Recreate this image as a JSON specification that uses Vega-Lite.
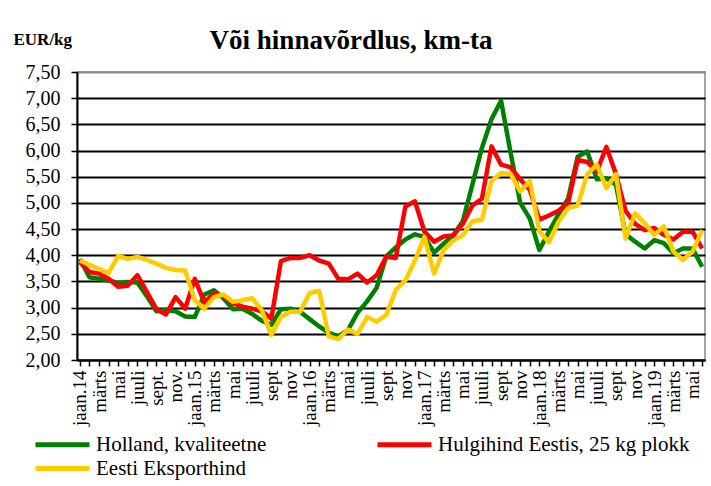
{
  "$schema": "https://vega.github.io/schema/vega-lite/v6.json",
  "width": 628,
  "height": 288,
  "autosize": {"type": "none"},
  "padding": {"left": 77, "top": 72, "right": 6, "bottom": 126},
  "background": "white",
  "title": {"text": "Või hinnavõrdlus, km-ta", "font": "Liberation Serif", "fontSize": 27, "fontWeight": "bold", "color": "black", "anchor": "middle", "frame": "group", "dx": -40, "dy": 32, "offset": -14, "baseline": "alphabetic"},
  "data": {"values": [
    {"kuu": "2014-01", "Holland": 3.93, "Hulgihind": 3.87, "Eksport": 3.90},
    {"kuu": "2014-02", "Holland": 3.58, "Hulgihind": 3.68, "Eksport": 3.82},
    {"kuu": "2014-03", "Holland": 3.55, "Hulgihind": 3.65, "Eksport": 3.74},
    {"kuu": "2014-04", "Holland": 3.52, "Hulgihind": 3.55, "Eksport": 3.66},
    {"kuu": "2014-05", "Holland": 3.47, "Hulgihind": 3.40, "Eksport": 3.99},
    {"kuu": "2014-06", "Holland": 3.49, "Hulgihind": 3.42, "Eksport": 3.93},
    {"kuu": "2014-07", "Holland": 3.48, "Hulgihind": 3.62, "Eksport": 3.97},
    {"kuu": "2014-08", "Holland": 3.22, "Hulgihind": 3.30, "Eksport": 3.91},
    {"kuu": "2014-09", "Holland": 2.93, "Hulgihind": 2.97, "Eksport": 3.84},
    {"kuu": "2014-10", "Holland": 2.95, "Hulgihind": 2.87, "Eksport": 3.76},
    {"kuu": "2014-11", "Holland": 2.93, "Hulgihind": 3.20, "Eksport": 3.72},
    {"kuu": "2014-12", "Holland": 2.83, "Hulgihind": 2.98, "Eksport": 3.71},
    {"kuu": "2015-01", "Holland": 2.82, "Hulgihind": 3.55, "Eksport": 3.14},
    {"kuu": "2015-02", "Holland": 3.25, "Hulgihind": 3.10, "Eksport": 2.98},
    {"kuu": "2015-03", "Holland": 3.33, "Hulgihind": 3.27, "Eksport": 3.20},
    {"kuu": "2015-04", "Holland": 3.18, "Hulgihind": 3.22, "Eksport": 3.25},
    {"kuu": "2015-05", "Holland": 2.97, "Hulgihind": 3.08, "Eksport": 3.11},
    {"kuu": "2015-06", "Holland": 2.98, "Hulgihind": 3.02, "Eksport": 3.14},
    {"kuu": "2015-07", "Holland": 2.88, "Hulgihind": 2.98, "Eksport": 3.18},
    {"kuu": "2015-08", "Holland": 2.75, "Hulgihind": 2.93, "Eksport": 2.95},
    {"kuu": "2015-09", "Holland": 2.67, "Hulgihind": 2.79, "Eksport": 2.48},
    {"kuu": "2015-10", "Holland": 2.97, "Hulgihind": 3.89, "Eksport": 2.82},
    {"kuu": "2015-11", "Holland": 2.98, "Hulgihind": 3.95, "Eksport": 2.92},
    {"kuu": "2015-12", "Holland": 2.92, "Hulgihind": 3.95, "Eksport": 2.92},
    {"kuu": "2016-01", "Holland": 2.78, "Hulgihind": 4.00, "Eksport": 3.28},
    {"kuu": "2016-02", "Holland": 2.64, "Hulgihind": 3.90, "Eksport": 3.32},
    {"kuu": "2016-03", "Holland": 2.52, "Hulgihind": 3.84, "Eksport": 2.45},
    {"kuu": "2016-04", "Holland": 2.45, "Hulgihind": 3.55, "Eksport": 2.40},
    {"kuu": "2016-05", "Holland": 2.57, "Hulgihind": 3.54, "Eksport": 2.58},
    {"kuu": "2016-06", "Holland": 2.90, "Hulgihind": 3.65, "Eksport": 2.50},
    {"kuu": "2016-07", "Holland": 3.12, "Hulgihind": 3.48, "Eksport": 2.82},
    {"kuu": "2016-08", "Holland": 3.38, "Hulgihind": 3.62, "Eksport": 2.73},
    {"kuu": "2016-09", "Holland": 3.98, "Hulgihind": 3.97, "Eksport": 2.86},
    {"kuu": "2016-10", "Holland": 4.15, "Hulgihind": 3.95, "Eksport": 3.34},
    {"kuu": "2016-11", "Holland": 4.30, "Hulgihind": 4.93, "Eksport": 3.52},
    {"kuu": "2016-12", "Holland": 4.40, "Hulgihind": 5.03, "Eksport": 3.90},
    {"kuu": "2017-01", "Holland": 4.35, "Hulgihind": 4.45, "Eksport": 4.35},
    {"kuu": "2017-02", "Holland": 4.05, "Hulgihind": 4.26, "Eksport": 3.65},
    {"kuu": "2017-03", "Holland": 4.22, "Hulgihind": 4.36, "Eksport": 4.10},
    {"kuu": "2017-04", "Holland": 4.38, "Hulgihind": 4.38, "Eksport": 4.28},
    {"kuu": "2017-05", "Holland": 4.65, "Hulgihind": 4.60, "Eksport": 4.38},
    {"kuu": "2017-06", "Holland": 5.35, "Hulgihind": 4.95, "Eksport": 4.65},
    {"kuu": "2017-07", "Holland": 6.05, "Hulgihind": 5.08, "Eksport": 4.68},
    {"kuu": "2017-08", "Holland": 6.60, "Hulgihind": 6.08, "Eksport": 5.42},
    {"kuu": "2017-09", "Holland": 6.95, "Hulgihind": 5.73, "Eksport": 5.57},
    {"kuu": "2017-10", "Holland": 5.95, "Hulgihind": 5.68, "Eksport": 5.55},
    {"kuu": "2017-11", "Holland": 5.00, "Hulgihind": 5.45, "Eksport": 5.22},
    {"kuu": "2017-12", "Holland": 4.70, "Hulgihind": 5.25, "Eksport": 5.42},
    {"kuu": "2018-01", "Holland": 4.10, "Hulgihind": 4.68, "Eksport": 4.46},
    {"kuu": "2018-02", "Holland": 4.45, "Hulgihind": 4.76, "Eksport": 4.25},
    {"kuu": "2018-03", "Holland": 4.78, "Hulgihind": 4.85, "Eksport": 4.64},
    {"kuu": "2018-04", "Holland": 5.08, "Hulgihind": 5.00, "Eksport": 4.90},
    {"kuu": "2018-05", "Holland": 5.88, "Hulgihind": 5.82, "Eksport": 4.95},
    {"kuu": "2018-06", "Holland": 5.98, "Hulgihind": 5.78, "Eksport": 5.55},
    {"kuu": "2018-07", "Holland": 5.45, "Hulgihind": 5.60, "Eksport": 5.73},
    {"kuu": "2018-08", "Holland": 5.47, "Hulgihind": 6.07, "Eksport": 5.28},
    {"kuu": "2018-09", "Holland": 5.35, "Hulgihind": 5.55, "Eksport": 5.55},
    {"kuu": "2018-10", "Holland": 4.40, "Hulgihind": 4.85, "Eksport": 4.32},
    {"kuu": "2018-11", "Holland": 4.26, "Hulgihind": 4.60, "Eksport": 4.80},
    {"kuu": "2018-12", "Holland": 4.13, "Hulgihind": 4.48, "Eksport": 4.61},
    {"kuu": "2019-01", "Holland": 4.29, "Hulgihind": 4.52, "Eksport": 4.39},
    {"kuu": "2019-02", "Holland": 4.23, "Hulgihind": 4.39, "Eksport": 4.55},
    {"kuu": "2019-03", "Holland": 4.04, "Hulgihind": 4.30, "Eksport": 4.07},
    {"kuu": "2019-04", "Holland": 4.13, "Hulgihind": 4.45, "Eksport": 3.91},
    {"kuu": "2019-05", "Holland": 4.13, "Hulgihind": 4.45, "Eksport": 4.07},
    {"kuu": "2019-06", "Holland": 3.78, "Hulgihind": 4.13, "Eksport": 4.48}
  ]},
  "transform": [{"fold": ["Holland", "Hulgihind", "Eksport"], "as": ["seeria", "hind"]}],
  "mark": {"type": "line", "strokeWidth": 4.5, "strokeJoin": "round"},
  "encoding": {
    "x": {
      "field": "kuu", "type": "ordinal",
      "scale": {"type": "point", "padding": 0.3},
      "axis": {
        "title": null,
        "labelExpr": "substring(datum.value,5,7)=='01' ? 'jaan.'+substring(datum.value,2,4) : substring(datum.value,5,7)=='03' ? 'märts' : substring(datum.value,5,7)=='05' ? 'mai' : substring(datum.value,5,7)=='07' ? 'juuli' : substring(datum.value,5,7)=='09' ? (substring(datum.value,0,4)=='2014' ? 'sept.' : 'sept') : substring(datum.value,5,7)=='11' ? (substring(datum.value,0,4)=='2014' ? 'nov.' : 'nov') : ''",
        "labelAngle": -90,
        "labelFont": "Liberation Serif",
        "labelFontSize": 19,
        "labelColor": "black",
        "labelOverlap": false,
        "labelBound": false,
        "labelPadding": 4,
        "tickSize": 6,
        "tickColor": "black",
        "tickWidth": 1.5,
        "domainColor": "black",
        "domainWidth": 2,
        "grid": false
      }
    },
    "y": {
      "field": "hind", "type": "quantitative",
      "scale": {"domain": [2, 7.5], "nice": false, "zero": false},
      "axis": {
        "values": [2, 2.5, 3, 3.5, 4, 4.5, 5, 5.5, 6, 6.5, 7, 7.5],
        "title": "EUR/kg",
        "titleAngle": 0,
        "titleX": -64,
        "titleY": -28,
        "titleAlign": "left",
        "titleBaseline": "alphabetic",
        "titleFont": "Liberation Serif",
        "titleFontSize": 17,
        "titleFontWeight": "bold",
        "titleColor": "black",
        "labelExpr": "replace(format(datum.value, '.2f'), '.', ',')",
        "labelFont": "Liberation Serif",
        "labelFontSize": 20,
        "labelColor": "black",
        "labelPadding": 11,
        "tickSize": 6,
        "tickColor": "black",
        "tickWidth": 1.5,
        "domainColor": "black",
        "domainWidth": 2,
        "grid": true,
        "gridColor": {"condition": {"test": "datum.value === 7.5", "value": "#888888"}, "value": "black"},
        "gridWidth": 2
      }
    },
    "color": {
      "field": "seeria", "type": "nominal",
      "scale": {"domain": ["Holland", "Eksport", "Hulgihind"], "range": ["#008000", "#ffcc00", "#ff0000"]},
      "legend": {
        "orient": "none",
        "legendX": -26,
        "legendY": 361,
        "columns": 2,
        "title": null,
        "symbolType": "M-3,0H3",
        "symbolSize": 324,
        "symbolStrokeWidth": 5,
        "labelFont": "Liberation Serif",
        "labelFontSize": 21,
        "labelColor": "black",
        "labelLimit": 400,
        "labelOffset": 22,
        "columnPadding": 100,
        "rowPadding": 2,
        "labelExpr": "datum.value=='Holland' ? 'Holland, kvaliteetne' : datum.value=='Hulgihind' ? 'Hulgihind Eestis, 25 kg plokk' : 'Eesti Eksporthind'"
      }
    }
  },
  "config": {"view": {"stroke": "#888888", "strokeWidth": 1.5}, "font": "Liberation Serif"}
}
